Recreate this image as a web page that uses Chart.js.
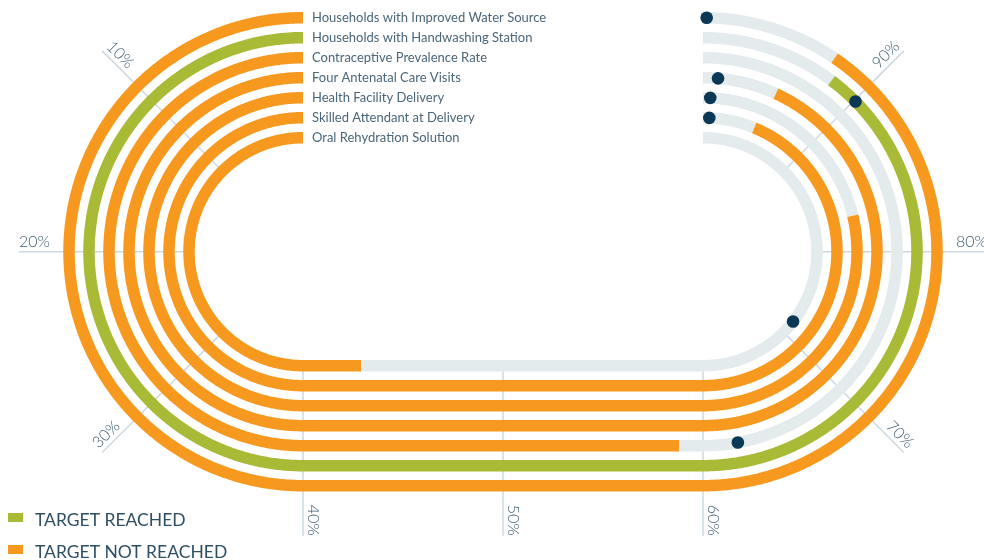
<!DOCTYPE html>
<html><head><meta charset="utf-8">
<script src="https://cdn.jsdelivr.net/npm/chart.js@4.4.0/dist/chart.umd.min.js"></script>
<style>html,body{margin:0;padding:0;background:#fff;}#wrap{width:984px;height:560px;position:relative;}</style>
</head><body><div id="wrap"><canvas id="c"></canvas></div>
<script>
// ---- data ----
const indicators = [
  "Households with Improved Water Source",
  "Households with Handwashing Station",
  "Contraceptive Prevalence Rate",
  "Four Antenatal Care Visits",
  "Health Facility Delivery",
  "Skilled Attendant at Delivery",
  "Oral Rehydration Solution"
];
const values  = [92.4, 91.8, 58.8, 94.5, 83.0, 95.0, 42.9];
const targets = [99.8, 89.9, 62.3, 98.9, 99.4, 99.4, 71.6];
const tickValues = [10, 20, 30, 40, 50, 60, 70, 80, 90];
const tickLabels = ["10%", "20%", "30%", "40%", "50%", "60%", "70%", "80%", "90%"];
const legendLabels = ["TARGET REACHED", "TARGET NOT REACHED"];

// ---- style / geometry ----
const COL_REACHED = "#a9ba37", COL_NOT = "#f7991e", COL_TRACK = "#e3ebed", COL_DOT = "#0b3854";
const COL_GRID = "#cdd9df", COL_TEXT = "#3d5d71";
const CX_L = -200, CX_R = 200, R0 = 234, RSTEP = 20, LW = 11.5;
const GRID_IN = 112, GRID_OUT = 284;
const FONT = "Lato, 'Open Sans', sans-serif";

function trackPos(p, r) {
  if (p <= 40) { const t = p / 40 * Math.PI; return {x: CX_L - r * Math.sin(t), y: r * Math.cos(t)}; }
  if (p <= 60) { return {x: CX_L + (p - 40) / 20 * (CX_R - CX_L), y: -r}; }
  const t = (p - 60) / 40 * Math.PI; return {x: CX_R + r * Math.sin(t), y: -r * Math.cos(t)};
}
function pathPoints(from, to, r) {
  const pts = []; const n = Math.max(2, Math.ceil((to - from) / 0.1));
  for (let k = 0; k <= n; k++) pts.push(trackPos(from + (to - from) * k / n, r));
  return pts;
}
const radius = i => R0 - RSTEP * i;
const reached = values.map((v, i) => v >= targets[i]);

// a dash longer than any track keeps the stroke continuous and the path exact
const lineBase = {showLine: true, borderWidth: LW, pointRadius: 0, borderCapStyle: 'butt',
  borderJoinStyle: 'round', tension: 0, borderDash: [5000, 1]};
const datasets = [];
// target dots
datasets.push({type: 'scatter', data: targets.map((t, i) => trackPos(t, radius(i))),
  pointRadius: 6.3, pointBackgroundColor: COL_DOT, pointBorderWidth: 0, showLine: false, order: 0});
// tracks
indicators.forEach((name, i) => {
  const r = radius(i);
  datasets.push(Object.assign({}, lineBase, {data: pathPoints(0, values[i], r),
    borderColor: reached[i] ? COL_REACHED : COL_NOT, order: 1}));
  datasets.push(Object.assign({}, lineBase, {data: pathPoints(values[i], 100, r),
    borderColor: COL_TRACK, order: 2}));
});
// grid lines
tickValues.forEach(p => {
  datasets.push({data: [trackPos(p, GRID_IN), trackPos(p, GRID_OUT)], showLine: true, borderColor: COL_GRID,
    borderWidth: 1.5, pointRadius: 0, order: 3});
});

const labelsPlugin = {
  id: 'labels',
  afterDatasetsDraw(chart) {
    const ctx = chart.ctx, xs = chart.scales.x, ys = chart.scales.y;
    const px = pt => ({x: xs.getPixelForValue(pt.x), y: ys.getPixelForValue(pt.y)});
    ctx.save();
    // tick labels
    ctx.fillStyle = COL_TEXT;
    ctx.font = "300 16px " + FONT;
    ctx.textBaseline = 'bottom';
    tickValues.forEach((p, k) => {
      const a = px(trackPos(p, GRID_IN)), b = px(trackPos(p, GRID_OUT));
      let ux = b.x - a.x, uy = b.y - a.y; const L = Math.hypot(ux, uy); ux /= L; uy /= L;
      let rot, align;
      if (p < 40) { rot = Math.atan2(-uy, -ux); align = 'left'; }
      else { rot = Math.atan2(uy, ux); align = 'right'; }
      ctx.save();
      ctx.translate(b.x, b.y); ctx.rotate(rot);
      ctx.textAlign = align;
      ctx.fillText(tickLabels[k], 0, -2);
      ctx.restore();
    });
    // indicator names
    ctx.font = "13px " + FONT;
    ctx.textAlign = 'left'; ctx.textBaseline = 'middle';
    ctx.fillStyle = "#4a6678";
    indicators.forEach((name, i) => {
      const q = px(trackPos(0, radius(i)));
      ctx.fillText(name, q.x + 9, q.y + 0.5);
    });
    // legend
    ctx.font = "17.5px " + FONT;
    ctx.textBaseline = 'alphabetic';
    [COL_REACHED, COL_NOT].forEach((c, k) => {
      const y0 = 513 + k * 32;
      ctx.fillStyle = c; ctx.fillRect(8, y0, 15, 9);
      ctx.fillStyle = "#2f5064"; ctx.fillText(legendLabels[k], 35, y0 + 13);
    });
    ctx.restore();
  }
};

new Chart(document.getElementById('c'), {
  type: 'scatter',
  data: {datasets},
  options: {
    responsive: true, maintainAspectRatio: false, animation: false,
    layout: {padding: 0, autoPadding: false},
    plugins: {legend: {display: false}, tooltip: {enabled: false}},
    scales: {
      x: {type: 'linear', min: -503, max: 481, display: false},
      y: {type: 'linear', min: -308.3, max: 251.7, display: false}
    }
  },
  plugins: [labelsPlugin]
});
</script></body></html>
